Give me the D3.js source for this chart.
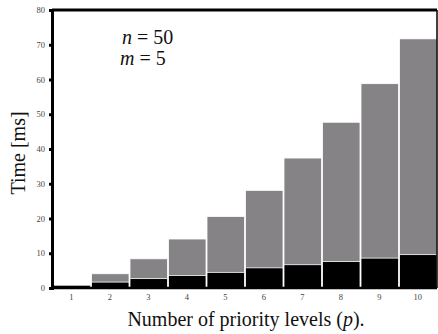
<!DOCTYPE html>
<html>
<head>
<meta charset="utf-8">
<script src="https://cdn.jsdelivr.net/npm/d3@7"></script>
<style>
  body { margin: 0; background: #fff; }
  svg { display: block; }
  svg text { font-family: 'Liberation Serif', 'Times New Roman', serif; }
</style>
</head>
<body>
<svg id="chart"></svg>
<script>
// priority levels
const levels = [1, 2, 3, 4, 5, 6, 7, 8, 9, 10];
// lower (black) part of each bar, ms
const baseTime = [0.8, 1.7, 2.7, 3.6, 4.5, 5.8, 6.7, 7.6, 8.6, 9.6];
// total bar height (grey top), ms
const totalTime = [0.8, 4.1, 8.4, 14.1, 20.6, 28.1, 37.4, 47.7, 58.8, 71.7];
const yTicks = [0, 10, 20, 30, 40, 50, 60, 70, 80];

const width = 438;
const height = 334;
const margin = { top: 10, right: 1, bottom: 46, left: 52 };
const chartWidth = width - margin.left - margin.right;
const chartHeight = height - margin.top - margin.bottom;
const grey = '#858386';

const svg = d3.select('#chart').attr('width', width).attr('height', height);
const chart = svg.append('g').attr('transform', `translate(${margin.left},${margin.top})`);

const x = d3.scaleBand().domain(levels).range([0, chartWidth]).padding(0);
const y = d3.scaleLinear().domain([0, 80]).range([chartHeight, 0]);

// grey totals
chart
  .append('g')
  .selectAll('rect')
  .data(levels)
  .join('rect')
  .attr('x', (d) => x(d) + 1)
  .attr('width', x.bandwidth() - 1)
  .attr('y', (d, i) => y(totalTime[i]))
  .attr('height', (d, i) => y(0) - y(totalTime[i]))
  .attr('fill', grey)
  .attr('stroke', '#fff')
  .attr('stroke-width', 0.8);

// black base
chart
  .append('g')
  .selectAll('rect')
  .data(levels)
  .join('rect')
  .attr('x', (d) => x(d) + 1)
  .attr('width', x.bandwidth() - 1)
  .attr('y', (d, i) => y(baseTime[i]))
  .attr('height', (d, i) => y(0) - y(baseTime[i]))
  .attr('fill', '#000')
  .attr('stroke', '#fff')
  .attr('stroke-width', 0.8);

// frame
chart.append('line').attr('x1', 0).attr('x2', chartWidth).attr('y1', 0).attr('y2', 0)
  .attr('stroke', '#000').attr('stroke-width', 3);
chart.append('line').attr('x1', chartWidth).attr('x2', chartWidth).attr('y1', 0).attr('y2', chartHeight)
  .attr('stroke', '#000').attr('stroke-width', 1.5);
chart.append('line').attr('x1', 0).attr('x2', chartWidth).attr('y1', chartHeight).attr('y2', chartHeight)
  .attr('stroke', '#000').attr('stroke-width', 2.5);

// Y axis
const yAxis = chart
  .append('g')
  .call(d3.axisLeft(y).tickValues(yTicks).tickSize(3).tickPadding(4));
yAxis.attr('font-family', null);
yAxis.select('.domain').attr('stroke', '#000').attr('stroke-width', 3);
yAxis.selectAll('.tick line').attr('stroke', '#000').attr('stroke-width', 3);
yAxis.selectAll('.tick text').style('font-size', '8.5px').attr('fill', '#444');

// X axis labels
const xAxis = chart
  .append('g')
  .attr('transform', `translate(0,${chartHeight})`)
  .call(d3.axisBottom(x).tickSize(0).tickPadding(6));
xAxis.attr('font-family', null);
xAxis.select('.domain').remove();
xAxis.selectAll('.tick text').style('font-size', '8.5px').attr('fill', '#444');

// axis titles
svg.append('text')
  .attr('transform', `translate(25,${margin.top + chartHeight / 2 + 4}) rotate(-90)`)
  .attr('text-anchor', 'middle')
  .style('font-size', '20px').attr('fill', '#111')
  .text('Time [ms]');

const xt = svg.append('text')
  .attr('x', 246).attr('y', 326)
  .attr('text-anchor', 'middle')
  .style('font-size', '20px').attr('fill', '#111');
xt.append('tspan').text('Number of priority levels (');
xt.append('tspan').style('font-style', 'italic').text('p');
xt.append('tspan').text(').');

// annotation
const n = svg.append('text').attr('x', 122).attr('y', 44)
  .style('font-size', '20px').attr('fill', '#111');
n.append('tspan').style('font-style', 'italic').text('n');
n.append('tspan').text(' = 50');
const m = svg.append('text').attr('x', 120).attr('y', 65)
  .style('font-size', '20px').attr('fill', '#111');
m.append('tspan').style('font-style', 'italic').text('m');
m.append('tspan').text(' = 5');
</script>
</body>
</html>
